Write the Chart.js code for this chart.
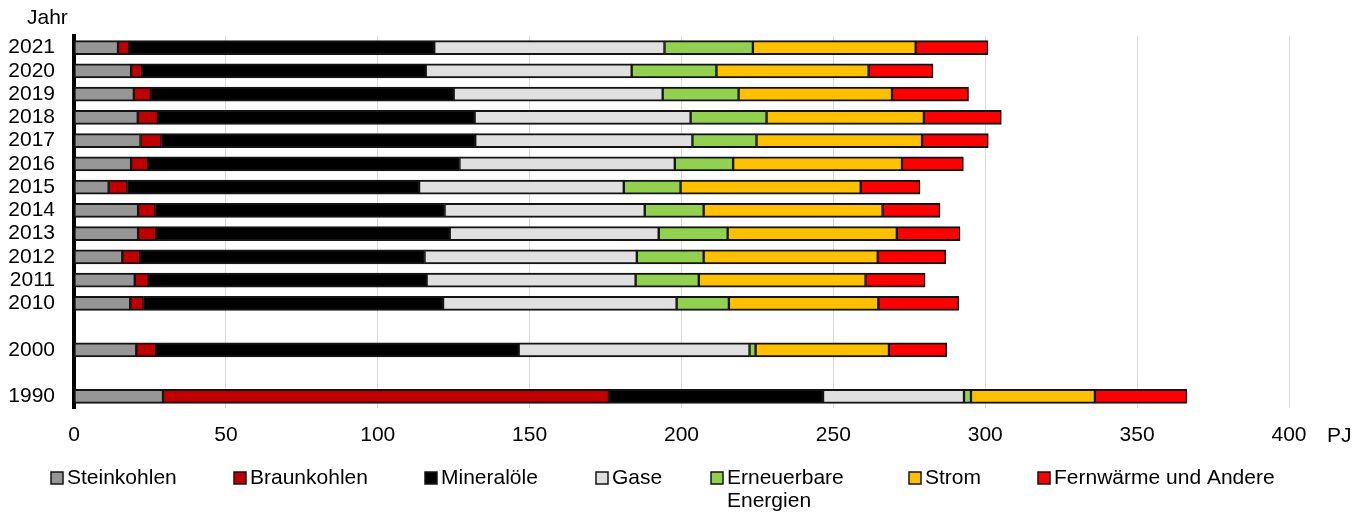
<!DOCTYPE html>
<html>
<head>
<meta charset="utf-8">
<script src="https://cdn.jsdelivr.net/npm/chart.js@4.4.1/dist/chart.umd.min.js"></script>
<style>
  html, body { margin: 0; padding: 0; background: #fff; }
  #wrap { width: 1368px; height: 512px; }
</style>
</head>
<body>
<div id="wrap"><canvas id="chart" width="1368" height="512"></canvas></div>
<script>
  'use strict';

  // Categories (empty strings are the gaps before 2000 and 1990).
  var years = ['2021', '2020', '2019', '2018', '2017', '2016', '2015', '2014',
    '2013', '2012', '2011', '2010', '', '2000', '', '1990'];

  // Values in PJ.
  var steinkohlen = [14.5, 18.8, 19.7, 21.0, 21.9, 18.8, 11.4, 21.1, 21.1, 15.9, 20.0, 18.5, null, 20.5, null, 29.3];
  var braunkohlen = [3.7, 3.6, 5.6, 6.6, 6.9, 5.6, 6.2, 5.7, 6.0, 5.9, 4.6, 4.4, null, 6.5, null, 146.8];
  var mineraloele = [100.4, 93.4, 99.7, 104.3, 103.3, 102.5, 96.0, 95.2, 96.6, 93.6, 91.5, 98.6, null, 119.4, null, 70.5];
  var gase = [75.8, 67.8, 68.8, 71.1, 71.5, 70.9, 67.4, 65.9, 68.8, 69.9, 68.8, 76.9, null, 76.0, null, 46.4];
  var erneuerbare = [29.1, 27.9, 25.0, 25.0, 21.1, 19.2, 18.7, 19.4, 22.7, 22.0, 20.8, 17.2, null, 2.0, null, 2.3];
  var strom = [53.6, 50.1, 50.5, 51.8, 54.5, 55.6, 59.3, 58.9, 55.7, 57.3, 54.9, 49.2, null, 43.9, null, 40.8];
  var fernwaerme = [23.8, 21.2, 25.2, 25.5, 21.8, 20.2, 19.5, 18.9, 20.8, 22.4, 19.6, 26.5, null, 19.0, null, 30.3];

  var seriesLabels = ['Steinkohlen', 'Braunkohlen', 'Mineralöle', 'Gase',
    ['Erneuerbare', 'Energien'], 'Strom', 'Fernwärme und Andere'];
  var seriesColors = ['#969696', '#c00000', '#000000', '#e0e0e0', '#92d050', '#ffc000', '#ff0000'];
  var seriesValues = [steinkohlen, braunkohlen, mineraloele, gase, erneuerbare, strom, fernwaerme];

  // Legend entry positions (left edge of the colour box).
  var legendX = [51, 234, 425, 596, 711, 909, 1038];

  var FONT = "'Liberation Sans', Arial, sans-serif";
  Chart.defaults.font.family = FONT;
  Chart.defaults.font.size = 21;
  Chart.defaults.color = '#000';

  var datasets = seriesValues.map(function (vals, i) {
    return {
      label: seriesLabels[i],
      data: vals,
      backgroundColor: seriesColors[i],
      borderColor: '#141414',
      borderWidth: { top: 2, bottom: 2, left: 1.5, right: 1.5 },
      borderSkipped: false,
      barThickness: 14
    };
  });

  // Draws the axis captions and the legend rows underneath the chart.
  var extras = {
    id: 'extras',
    afterDraw: function (chart) {
      var ctx = chart.ctx;
      ctx.save();
      ctx.font = '21px ' + FONT;
      ctx.fillStyle = '#000';
      ctx.textBaseline = 'middle';
      ctx.textAlign = 'left';
      ctx.fillText('Jahr', 27, 18);
      ctx.fillText('PJ', 1327, 436);

      chart.data.datasets.forEach(function (ds, i) {
        var x = legendX[i];
        var y = 478;
        ctx.fillStyle = ds.backgroundColor;
        ctx.fillRect(x, y - 6, 12, 12);
        ctx.lineWidth = 1.5;
        ctx.strokeStyle = '#141414';
        ctx.strokeRect(x, y - 6, 12, 12);
        ctx.fillStyle = '#000';
        var lines = [].concat(ds.label);
        lines.forEach(function (t, j) {
          ctx.fillText(t, x + 16, y + j * 23);
        });
      });
      ctx.restore();
    }
  };

  new Chart(document.getElementById('chart'), {
    type: 'bar',
    data: { labels: years, datasets: datasets },
    options: {
      indexAxis: 'y',
      responsive: false,
      animation: false,
      layout: { padding: { top: 36, right: 79, left: 0, bottom: 0 } },
      plugins: {
        legend: { display: false },
        tooltip: { enabled: false }
      },
      scales: {
        x: {
          stacked: true,
          min: 0,
          max: 400,
          ticks: { stepSize: 50, padding: 15 },
          grid: { color: '#d9d9d9', lineWidth: 1, drawTicks: false },
          border: { display: false },
          afterFit: function (s) { s.height = 104; }
        },
        y: {
          stacked: true,
          ticks: { padding: 19, autoSkip: false },
          grid: { display: false, drawTicks: false },
          border: { display: true, color: '#000', width: 4 },
          afterFit: function (s) { s.width = 74; }
        }
      }
    },
    plugins: [extras]
  });
</script>
</body>
</html>
